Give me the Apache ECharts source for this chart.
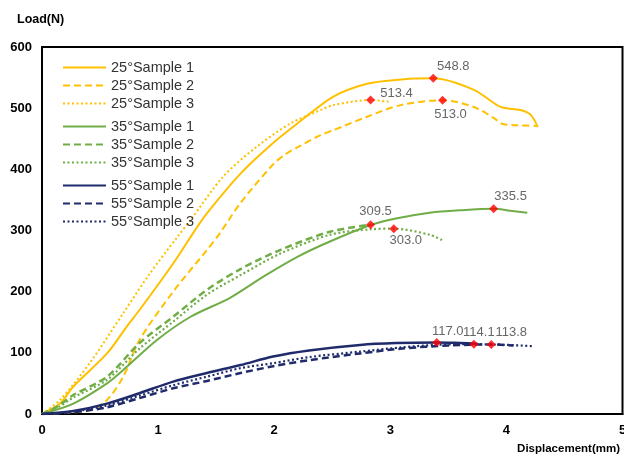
<!DOCTYPE html>
<html>
<head>
<meta charset="utf-8">
<script src="https://cdn.jsdelivr.net/npm/echarts@6/dist/echarts.min.js"></script>
<style>html,body{margin:0;padding:0;background:#fff;}#c{width:624px;height:456px;}</style>
</head>
<body>
<div id="c"></div>
<script>
// ---- data ----
var seriesNames = ['25°Sample 1','25°Sample 2','25°Sample 3','35°Sample 1','35°Sample 2','35°Sample 3','55°Sample 1','55°Sample 2','55°Sample 3'];
var xTicks = [0,1,2,3,4,5];
var yTicks = [0,100,200,300,400,500,600];

var s25_1_x = [0,0.155,0.27,0.56,0.73,0.84,1.13,1.32,1.42,1.71,1.99,2.20,2.51,2.80,3.10,3.37,3.72,3.95,4.12,4.21,4.27];
var s25_1_y = [0,17,45,99,143,170,246,301,328,393,443,475,519,540,547,548.8,530,502,497,489,469];
var s25_2_x = [0,0.2,0.41,0.56,0.70,0.84,1.13,1.42,1.53,1.71,1.99,2.10,2.22,2.40,2.51,2.80,3.09,3.45,3.72,3.89,3.97,4.10,4.26];
var s25_2_y = [0,2,6,23,61,121,200,268,295,345,408,425,438,456,464,486,505,513.0,502,484,474,472,471];
var s25_3_x = [0,0.155,0.41,0.70,0.93,1.16,1.28,1.56,1.85,2.14,2.40,2.51,2.83,3.0];
var s25_3_y = [0,23,83,165,230,288,317,388,437,475,497,505,513.4,510];

var s35_1_x = [0,0.27,0.56,0.70,0.99,1.28,1.62,1.91,2.20,2.48,2.83,3.06,3.34,3.60,3.89,4.05,4.18];
var s35_1_y = [0,17,50,72,121,159,190,225,257,282,309,320,329,333,335.5,332,329];
var s35_2_x = [0,0.13,0.27,0.56,0.84,1.13,1.42,1.71,2.05,2.48,2.83];
var s35_2_y = [0,12,31,61,116,159,203,237,268,298,309.5];
var s35_3_x = [0,0.13,0.27,0.56,0.84,1.13,1.42,1.71,2.05,2.48,2.83,3.03,3.34,3.46];
var s35_3_y = [0,10,27,56,107,151,195,227,262,293,302,303.0,293,283];

var s55_1_x = [0,0.27,0.56,0.84,1.13,1.42,1.71,1.99,2.30,2.74,3.05,3.40,3.60,3.75];
var s55_1_y = [0,5,17,34,53,67,80,94,104,113,116,117.0,116,115];
var s55_2_x = [0,0.27,0.56,0.84,1.13,1.42,1.71,1.99,2.30,2.74,3.10,3.50,3.87,4.06];
var s55_2_y = [0,3,11,26,42,54,67,78,88,99,107,112,113.8,112];
var s55_3_x = [0,0.27,0.56,0.84,1.13,1.42,1.71,1.99,2.30,2.74,3.10,3.40,3.72,4.00,4.22];
var s55_3_y = [0,4,14,30,47,61,75,83,93,102,109,113,114.1,113,111];

var peakX = [3.37,3.45,2.83,3.89,2.83,3.03,3.40,3.72,3.87];
var peakY = [548.8,513.0,513.4,335.5,309.5,303.0,117.0,114.1,113.8];
var peakLabels = ['548.8','513.0','513.4','335.5','309.5','303.0','117.0','114.1','113.8'];

// ---- styles ----
var colors = ['#FFC000','#FFC000','#FFC000','#70AD47','#70AD47','#70AD47','#1F2B6B','#1F2B6B','#1F2B6B'];
var lineTypes = ['solid',[7,4],[2,2.5],'solid',[7,4],[2,2.5],'solid',[7,4],[2,2.5]];
var widths = [2,2,2,2,2.5,2.2,2.5,2.5,2.2];
var labelOffsets = [[20,-12],[8,14],[26,-7],[17,-12],[5,-13],[12,12],[11,-11],[5,-12],[20,-12]];

var xs = [s25_1_x,s25_2_x,s25_3_x,s35_1_x,s35_2_x,s35_3_x,s55_1_x,s55_2_x,s55_3_x];
var ys = [s25_1_y,s25_2_y,s25_3_y,s35_1_y,s35_2_y,s35_3_y,s55_1_y,s55_2_y,s55_3_y];

var series = [];
for (var i = 0; i < seriesNames.length; i++) {
  var d = [];
  for (var k = 0; k < xs[i].length; k++) d.push([xs[i][k], ys[i][k]]);
  series.push({
    name: seriesNames[i], type: 'line', data: d, smooth: 0.3,
    symbol: 'none', showSymbol: false,
    lineStyle: {color: colors[i], width: widths[i], type: lineTypes[i]},
    itemStyle: {color: colors[i]},
    z: 2
  });
}
var peakData = [];
for (var j = 0; j < peakX.length; j++) {
  peakData.push({
    value: [peakX[j], peakY[j]],
    label: {show: true, position: 'inside', offset: labelOffsets[j], formatter: peakLabels[j]}
  });
}
series.push({
  name: 'peaks', type: 'scatter', data: peakData, symbol: 'diamond', symbolSize: 9,
  itemStyle: {color: '#FF0000'}, z: 5,
  label: {show: true, color: '#404040', fontSize: 13, fontFamily: 'Liberation Sans, Arial'}
});

function mkLegend(names, top) {
  return {
    data: names, orient: 'vertical', left: 62, top: top, padding: 0,
    itemWidth: 43, itemHeight: 14, itemGap: 3,
    itemStyle: {opacity: 0},
    textStyle: {fontSize: 14.5, lineHeight: 14, color: '#333', fontFamily: 'Liberation Sans, Arial'}
  };
}

var chart = echarts.init(document.getElementById('c'));
chart.setOption({
  animation: false,
  backgroundColor: '#fff',
  grid: {left: 42, right: 1.5, top: 47, bottom: 42, containLabel: false, outerBoundsMode: 'none',
         show: true, borderColor: '#000', borderWidth: 2, backgroundColor: 'transparent'},
  legend: [mkLegend(seriesNames.slice(0,3), 60), mkLegend(seriesNames.slice(3,6), 119), mkLegend(seriesNames.slice(6,9), 178)],
  xAxis: {
    type: 'value', min: xTicks[0], max: xTicks[xTicks.length-1], interval: 1,
    axisLine: {show: true, lineStyle: {color: '#000', width: 2}},
    axisTick: {show: false}, splitLine: {show: false},
    axisLabel: {color: '#000', fontWeight: 'bold', fontSize: 13, margin: 10, fontFamily: 'Liberation Sans, Arial'}
  },
  yAxis: {
    type: 'value', min: yTicks[0], max: yTicks[yTicks.length-1], interval: 100,
    axisLine: {show: true, lineStyle: {color: '#000', width: 2}},
    axisTick: {show: false}, splitLine: {show: false},
    axisLabel: {color: '#000', fontWeight: 'bold', fontSize: 13, margin: 10, fontFamily: 'Liberation Sans, Arial'}
  },
  graphic: [
    {type: 'text', left: 17, top: 13, style: {text: 'Load(N)', fill: '#000', font: 'bold 12.5px Liberation Sans, Arial'}},
    {type: 'text', right: 4, top: 443, style: {text: 'Displacement(mm)', fill: '#000', font: 'bold 11.5px Liberation Sans, Arial'}}
  ],
  series: series
});
</script>
</body>
</html>
